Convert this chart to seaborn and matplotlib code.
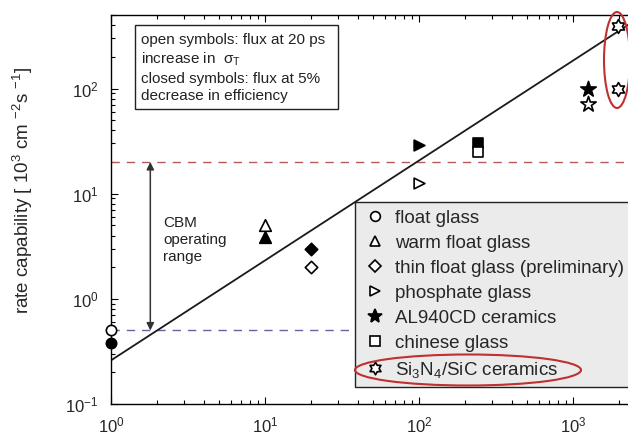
import numpy as np
import matplotlib
matplotlib.use("Agg")
import matplotlib.pyplot as plt
from matplotlib.path import Path
from matplotlib.lines import Line2D
from matplotlib.patches import Ellipse, Rectangle
import seaborn as sns

# ---- data -------------------------------------------------------------
materials = ["float glass", "warm float glass", "thin float glass (preliminary)",
             "phosphate glass", "AL940CD ceramics", "chinese glass",
             "Si$_3$N$_4$/SiC ceramics"]
# position along the horizontal axis for each material
mat_x = [1, 10, 20, 100, 1250, 240, 1950]
# flux at 20 ps increase in sigma_T (open symbols)
flux_open = [0.5, 5.0, 2.0, 12.7, 72, 25, 390]
# flux at 5% decrease in efficiency (closed symbols)
flux_closed = [0.38, 3.9, 3.0, 29, 100, 30, 100]
closed_filled = [True, True, True, True, True, True, False]

# reference trend line
trend_x = [1, 3000]
trend_y = [0.26, 523]

# CBM operating range
cbm_low, cbm_high = 0.5, 20
cbm_arrow_x = 1.8

x_ticks = [1, 10, 100, 1000]
y_ticks = [0.1, 1, 10, 100]

# ---- style ------------------------------------------------------------
sns.set_theme(style="ticks")
plt.rcParams["font.family"] = ["Liberation Sans", "DejaVu Sans"]
plt.rcParams["mathtext.fontset"] = "custom"
plt.rcParams["mathtext.rm"] = "Liberation Sans"
plt.rcParams["mathtext.it"] = "Liberation Sans:italic"
plt.rcParams["mathtext.bf"] = "Liberation Sans:bold"
plt.rcParams["mathtext.sf"] = "Liberation Sans"
plt.rcParams["axes.edgecolor"] = "black"
plt.rcParams["axes.linewidth"] = 1.0

# six-pointed star (hexagram) marker
ang_out = np.deg2rad(90 + 60 * np.arange(6))
ang_in = ang_out + np.deg2rad(30)
r_in = 1 / np.sqrt(3)
verts = []
for a_o, a_i in zip(ang_out, ang_in):
    verts.append((np.cos(a_o), np.sin(a_o)))
    verts.append((r_in * np.cos(a_i), r_in * np.sin(a_i)))
verts.append(verts[0])
hexagram = Path(verts, closed=True)

markers = ["o", "^", "D", ">", "*", "s", hexagram]
sizes = [55, 70, 40, 60, 135, 55, 100]

W, H = 628, 438
fig = plt.figure(figsize=(W / 100, H / 100), dpi=100)
ax_left, ax_bottom, ax_w, ax_h = 111, 34, 535.5, 389
ax = fig.add_axes([ax_left / W, ax_bottom / H, ax_w / W, ax_h / H])
ax.set_xscale("log")
ax.set_yscale("log")
ax.set_xlim(1, 3000)
ax.set_ylim(0.1, 500)

# trend line
sns.lineplot(x=trend_x, y=trend_y, ax=ax, color="#1a1a1a", lw=1.3, zorder=2)

# CBM operating range lines
ax.axhline(cbm_low, color="#6464a0", lw=1.0, ls=(0, (6, 5)), zorder=1)
ax.axhline(cbm_high, color="#b85a5a", lw=1.0, ls=(0, (6, 5)), zorder=1)
ax.annotate("", xy=(cbm_arrow_x, cbm_high), xytext=(cbm_arrow_x, cbm_low),
            arrowprops=dict(arrowstyle="<|-|>", color="#333333", lw=1.1,
                            mutation_scale=11, shrinkA=0, shrinkB=0))
ax.text(0.097, 0.4216, "CBM\noperating\nrange", transform=ax.transAxes,
        fontsize=11, va="center", ha="left", color="#222222", linespacing=1.3)

# data points: closed symbols first, open symbols on top
for i in range(len(materials)):
    face = "black" if closed_filled[i] else "white"
    sns.scatterplot(x=[mat_x[i]], y=[flux_closed[i]], ax=ax, marker=markers[i],
                    s=sizes[i], color=face, edgecolor="black", linewidth=1.2,
                    legend=False, clip_on=False, zorder=4)
    sns.scatterplot(x=[mat_x[i]], y=[flux_open[i]], ax=ax, marker=markers[i],
                    s=sizes[i], color="white", edgecolor="black", linewidth=1.2,
                    legend=False, clip_on=False, zorder=5)

# axes formatting
ax.set_xticks(x_ticks)
ax.set_yticks(y_ticks)
ax.tick_params(which="both", direction="in", top=True, right=True,
               color="black", width=0.8)
ax.tick_params(which="major", length=5, labelsize=12)
ax.tick_params(axis="x", which="major", pad=8)
ax.tick_params(axis="y", which="major", pad=9)
ax.tick_params(which="minor", length=3)
ax.set_ylabel("rate capability [ $10^{3}$ cm $^{-2}$s $^{-1}$]", fontsize=13.5)
ax.yaxis.set_label_coords(-0.142, 0.548)

# explanation box
ax.add_patch(Rectangle((0.0448, 0.758), 0.379, 0.216, transform=ax.transAxes,
                       facecolor="white", edgecolor="#222222", lw=1.0, zorder=6))
ax.text(0.056, 0.955,
        "open symbols: flux at 20 ps\nincrease in  $\\mathrm{\\sigma}_\\mathrm{T}$\n"
        "closed symbols: flux at 5%\ndecrease in efficiency",
        transform=ax.transAxes, fontsize=11, va="top", ha="left",
        color="#222222", linespacing=1.33, zorder=7)

# legend
handles = []
for i in range(len(materials)):
    face = "black" if materials[i].startswith("AL940") else "white"
    ms = {"*": 10.5, "o": 7, "^": 7.5, "D": 6, ">": 7, "s": 6.5}.get(markers[i], 8) \
        if isinstance(markers[i], str) else 9
    handles.append(Line2D([], [], ls="none", marker=markers[i], mfc=face,
                          mec="black", mew=1.2, ms=ms))
leg = ax.legend(handles, materials, loc="upper left",
                bbox_to_anchor=(0.4556, 0.519), fontsize=13.5, frameon=True,
                fancybox=False, edgecolor="#222222", facecolor="#ebebeb",
                framealpha=1, handlelength=1.33, handletextpad=0.4,
                borderpad=0.4, labelspacing=0.42, borderaxespad=0)
leg.get_frame().set_linewidth(1.0)
leg.set_zorder(8)

# highlight ellipses (figure inches)
fig.add_artist(Ellipse((6.17, (H - 60) / 100), 0.26, 0.96, fill=False,
                       edgecolor="#c03030", lw=1.5, transform=fig.dpi_scale_trans,
                       zorder=10))
fig.add_artist(Ellipse((4.68, (H - 370) / 100), 2.26, 0.31, fill=False,
                       edgecolor="#c03030", lw=1.5, transform=fig.dpi_scale_trans,
                       zorder=10))

fig.savefig("out.png", dpi=100)
